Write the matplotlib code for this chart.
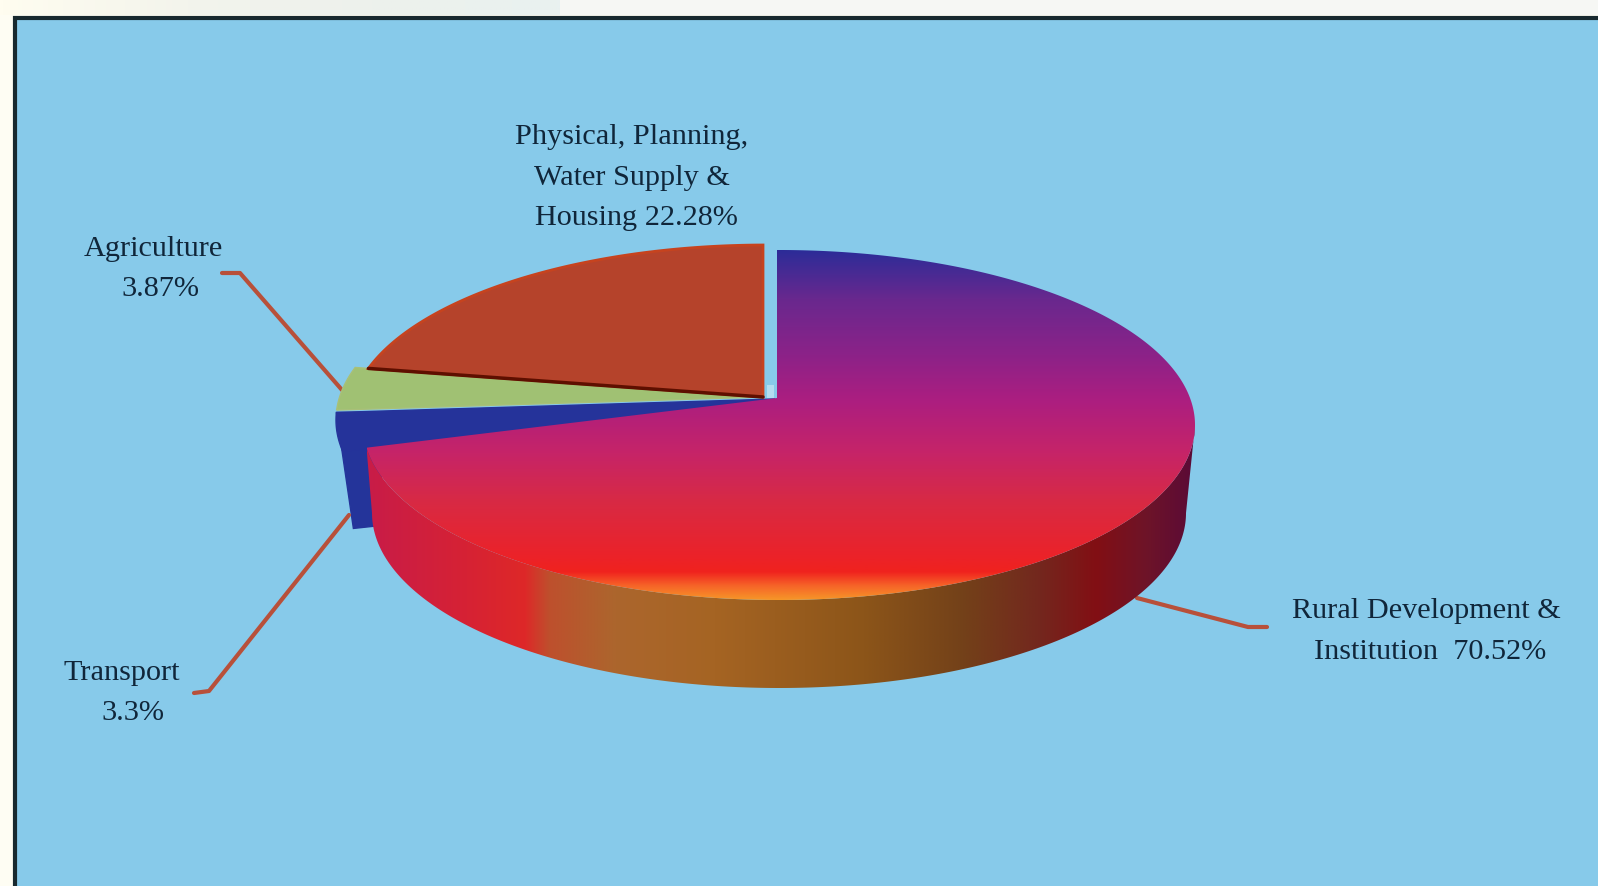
import numpy as np
import matplotlib
matplotlib.use("Agg")
import matplotlib.pyplot as plt
from matplotlib.colors import LinearSegmentedColormap
from matplotlib.patches import Polygon, Rectangle

# ---- data (clockwise from 12 o'clock) ----
sectors = ["Rural Development & Institution", "Transport", "Agriculture",
           "Physical, Planning, Water Supply & Housing"]
shares = [70.52, 3.30, 3.87, 22.28]

label_lines = [["Physical, Planning,", "Water Supply &", "Housing 22.28%"],
               ["Agriculture", "3.87%"],
               ["Transport", "3.3%"],
               ["Rural Development &", "Institution  70.52%"]]

W, H = 1598, 886
fig = plt.figure(figsize=(W / 100, H / 100), dpi=100)
ax = fig.add_axes([0, 0, 1, 1])
ax.axis("off")

# ---- page background and frame ----
page = LinearSegmentedColormap.from_list("page", ["#FFFDF0", "#F3F4EC", "#EDF1EC", "#E9F1F0"])
ax.add_patch(Rectangle((0, 0), W, H, fc="#FEFDF3", ec="none", zorder=0))
ax.imshow(np.linspace(0, 1, 300)[None, :], extent=(0, 560, 15, 0), cmap=page, aspect="auto", zorder=0.5)
ax.add_patch(Rectangle((560, 0), W, 15, fc="#F6F7F4", ec="none", zorder=0.5))
ax.add_patch(Rectangle((15, 18), W + 50, H + 50, fc="#87CAEA", ec="#18292F", lw=3, zorder=1))
ax.set_xlim(0, W)
ax.set_ylim(H, 0)

# ---- pie geometry ----
fractions = np.array(shares) / sum(shares)
edges = 90 - 360 * np.concatenate([[0], np.cumsum(fractions)])
RX, RY = 416.0, 175.0
K = RY / RX


def rim_point(apex, centre, theta):
    dx, dy = np.cos(np.radians(theta)), -np.sin(np.radians(theta)) * K
    ox, oy = (apex[0] - centre[0]) / RX, (apex[1] - centre[1]) / RY
    ux, uy = dx / RX, dy / RY
    a, b, c = ux * ux + uy * uy, 2 * (ox * ux + oy * uy), ox * ox + oy * oy - 1
    t = (-b + np.sqrt(b * b - 4 * a * c)) / (2 * a)
    return apex[0] + t * dx, apex[1] + t * dy


def arc(apex, centre, a0, a1, n=240):
    """Rim points of a slice, going clockwise on screen from pie angle a0 to a1."""
    p0 = np.array(rim_point(apex, centre, a0))
    p1 = np.array(rim_point(apex, centre, a1))
    t0 = np.arctan2((p0[1] - centre[1]) / RY, (p0[0] - centre[0]) / RX)
    t1 = np.arctan2((p1[1] - centre[1]) / RY, (p1[0] - centre[0]) / RX)
    while t1 < t0:
        t1 += 2 * np.pi
    tt = np.linspace(t0, t1, n)
    return np.c_[centre[0] + RX * np.cos(tt), centre[1] + RY * np.sin(tt)]


def gradient_fill(poly, stops, vertical, z):
    cmap = LinearSegmentedColormap.from_list("g", [(p, np.array(c) / 255) for p, c in stops], N=512)
    xs, ys = poly[:, 0], poly[:, 1]
    ext = (xs.min(), xs.max(), ys.max(), ys.min())
    grad = np.linspace(0, 1, 512)[:, None] if vertical else np.linspace(0, 1, 512)[None, :]
    im = ax.imshow(grad, extent=ext, cmap=cmap, aspect="auto", zorder=z, origin="upper")
    patch = Polygon(poly, closed=True, transform=ax.transData, fc="none", ec="none", zorder=z)
    ax.add_patch(patch)
    im.set_clip_path(patch)


main_apex, main_c = (777, 398), (779, 425)
blue_apex, side_c = (775, 399), (752, 420)
green_apex = (763, 397)
red_apex, red_c = (763, 397), (766, 420)
DEPTH = 88

# transport slice (with its side wall)
blue_arc = arc(blue_apex, side_c, edges[1], edges[2])
upper = blue_arc[-1]
blue_side = np.array([upper, upper + [17, 116], upper + [45, 113], upper + [45, 0]])
ax.add_patch(Polygon(blue_side, fc="#24349A", ec="#24349A", lw=1, zorder=2))
ax.add_patch(Polygon(np.vstack([[blue_apex], blue_arc]), fc="#25339A", ec="#25339A", lw=1, zorder=3))

# agriculture slice
green_arc = arc(green_apex, side_c, edges[2], edges[3])
ax.add_patch(Polygon(np.vstack([[green_apex], green_arc]), fc="#A0C173", ec="#A9C078", lw=1, zorder=4))

# physical planning slice
red_arc = arc(red_apex, red_c, edges[3], edges[4])
ax.add_patch(Polygon(np.vstack([[red_apex], red_arc]), fc="#B5432B", ec="#C6431F", lw=2, zorder=5))
ax.plot([red_arc[0][0], red_apex[0]], [red_arc[0][1], red_apex[1]],
        color="#5E0F00", lw=2.5, zorder=6, solid_capstyle="round")

# soft highlight at the foot of the gap beside the detached slice
ax.add_patch(Rectangle((767, 385), 7, 13, fc="#D8EEF8", ec="none", alpha=0.55, zorder=4.5))

# rural development side wall
th = np.linspace(0.0, np.pi, 400)
main_arc = arc(main_apex, main_c, edges[0], edges[1], 600)
lower_top = main_arc[main_arc[:, 1] >= main_c[1]]
lower_top = lower_top[np.argsort(-lower_top[:, 0])]
bottom = np.c_[main_c[0] + 407 * np.cos(th), main_c[1] + DEPTH + RY * np.sin(th)]
wall = np.vstack([lower_top, bottom[::-1]])
wall_stops = [(0.00, (200, 28, 72)), (0.12, (214, 34, 52)), (0.19, (222, 40, 40)), (0.22, (190, 80, 45)),
              (0.30, (172, 102, 45)), (0.42, (165, 100, 35)), (0.60, (140, 85, 25)), (0.72, (115, 65, 25)),
              (0.81, (115, 40, 30)), (0.88, (130, 15, 20)), (0.94, (110, 20, 40)), (1.00, (90, 10, 55))]
gradient_fill(wall, wall_stops, False, 7)

# rural development top
main_poly = np.vstack([[main_apex], main_arc])
top_stops = [(0.00, (44, 44, 152)), (0.14, (105, 40, 142)), (0.30, (140, 34, 136)), (0.43, (172, 30, 128)),
             (0.58, (198, 36, 104)), (0.72, (216, 42, 68)), (0.88, (236, 34, 40)), (0.92, (240, 34, 30)),
             (0.96, (246, 100, 40)), (1.00, (246, 150, 40))]
gradient_fill(main_poly, top_stops, True, 8)

# ---- leader lines ----
leader_x = [[222, 240, 342], [194, 209, 349], [1137, 1248, 1267]]
leader_y = [[273, 273, 390], [693, 691, 515], [598, 627, 627]]
for xs, ys in zip(leader_x, leader_y):
    ax.plot(xs, ys, color="#B8503A", lw=3, zorder=2, solid_joinstyle="round", solid_capstyle="round")

# ---- labels ----
label_x = [[632, 632, 636], [153, 160], [122, 133], [1426, 1430]]
label_y = [[137, 177.5, 217.5], [248.5, 289], [673.5, 713.5], [611.5, 652]]
for lines, xs, ys in zip(label_lines, label_x, label_y):
    for s, x, y in zip(lines, xs, ys):
        ax.text(x, y, s, ha="center", va="center", family="Liberation Serif", fontsize=21.8,
                color="#10263A", zorder=10)

ax.set_xlim(0, W)
ax.set_ylim(H, 0)
fig.savefig("out.png", dpi=100)
